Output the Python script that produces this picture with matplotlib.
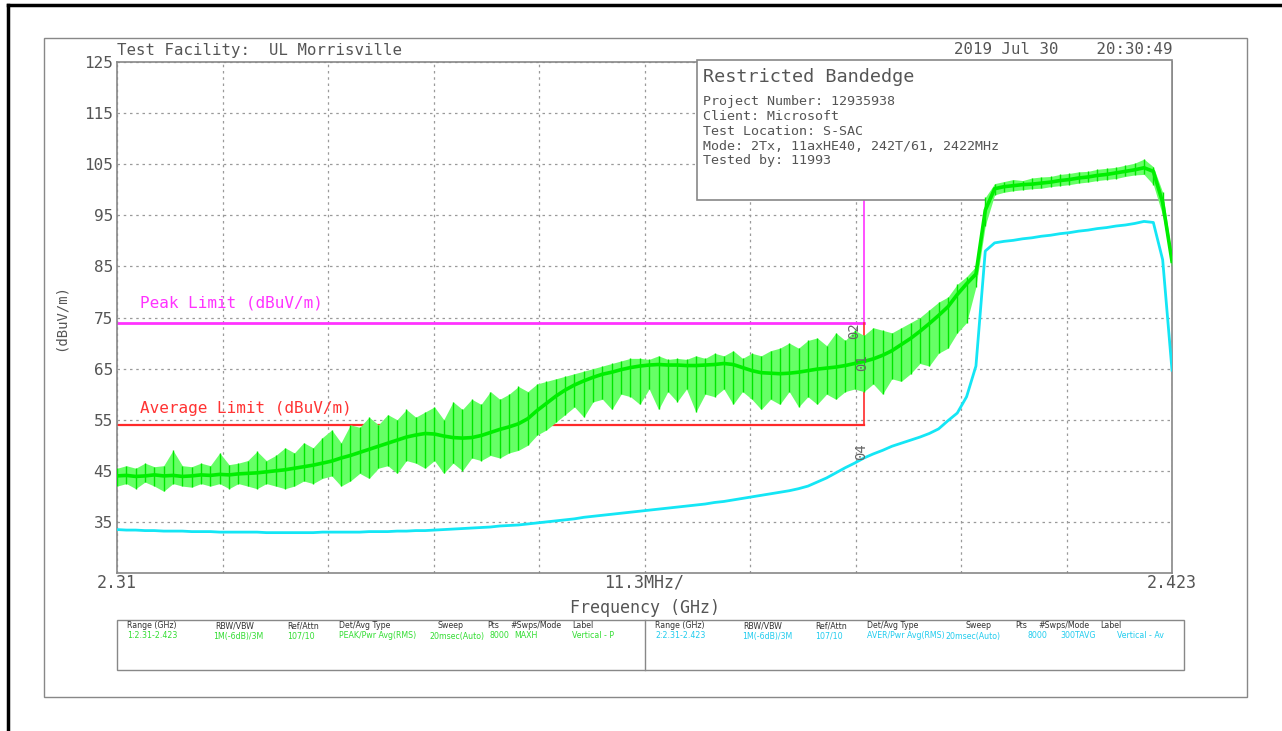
import numpy as np
import matplotlib
matplotlib.use("Agg")
import matplotlib.pyplot as plt
from matplotlib.patches import Rectangle
from matplotlib.lines import Line2D

# frequency grid of the read-off traces, 1 MHz steps (GHz)
freq = np.arange(2310, 2424) / 1000.0

# trace 1: peak (MAXH) - dense core, spike tops, spike bottoms (dBuV/m)
peak_core = [
    44.0, 44.1, 43.9, 44.0, 44.2, 44.0, 44.1, 43.9, 44.0, 44.2,
    44.1, 44.3, 44.2, 44.4, 44.5, 44.6, 44.8, 45.0, 45.2, 45.5,
    45.8, 46.1, 46.5, 46.9, 47.5, 48.0, 48.6, 49.2, 49.8, 50.4,
    51.0, 51.6, 52.0, 52.3, 52.2, 51.8, 51.5, 51.4, 51.5, 51.9,
    52.5, 53.1, 53.6, 54.2, 55.2, 56.8, 58.2, 59.6, 60.8, 61.8,
    62.6, 63.3, 63.9, 64.3, 64.8, 65.2, 65.5, 65.7, 65.8, 65.7,
    65.7, 65.6, 65.6, 65.7, 65.8, 66.0, 65.8, 65.2, 64.6, 64.2,
    64.1, 64.0, 64.1, 64.3, 64.6, 64.9, 65.1, 65.3, 65.6, 66.0,
    66.4, 66.9, 67.6, 68.5, 69.7, 70.9, 72.3, 73.8, 75.4, 77.1,
    79.5, 81.6, 83.5, 96.0, 100.2, 100.6, 100.8, 101.0, 101.1, 101.3,
    101.5, 101.8, 102.0, 102.3, 102.5, 102.8, 103.0, 103.3, 103.6, 103.9,
    104.3, 103.6, 97.5, 86.0,
]
peak_hi = [
    45.5, 46.0, 45.5, 46.5, 45.8, 46.0, 49.0, 46.0, 45.8, 46.5,
    46.0, 48.5, 46.2, 46.5, 47.0, 48.8, 47.0, 48.0, 49.5, 48.5,
    50.5, 49.5, 51.5, 53.0, 50.5, 54.0, 53.5, 55.5, 54.0, 56.0,
    55.0, 57.0, 55.5, 56.5, 57.5, 55.0, 58.5, 57.0, 59.0, 58.0,
    60.5, 59.0, 60.0, 61.5, 60.5, 62.0, 62.5, 63.0, 63.5, 64.0,
    64.5, 65.0, 65.5, 66.0, 66.5, 67.0, 67.0, 66.8, 67.5, 66.8,
    67.0, 66.8, 67.5, 67.0, 68.0, 67.5, 68.5, 67.0, 68.0, 67.5,
    68.5, 69.0, 70.0, 69.0, 70.5, 71.0, 69.5, 72.0, 70.5, 72.5,
    71.5, 73.0, 72.5, 72.0, 73.0, 74.0, 75.0, 76.5, 78.0, 79.0,
    81.5, 83.0, 85.0, 98.5, 101.2, 101.6, 102.0, 101.8, 102.3, 102.5,
    102.6, 103.0, 103.2, 103.5, 103.6, 104.0, 104.2, 104.4, 104.8, 105.2,
    106.0, 104.5, 99.5, 87.0,
]
peak_lo = [
    42.0, 42.5, 41.5, 42.8, 42.0, 41.0, 42.5, 42.0, 41.8, 42.5,
    42.0, 42.5, 41.5, 42.5, 42.0, 41.5, 42.5, 42.0, 41.5, 42.0,
    43.0, 42.5, 43.5, 44.0, 42.0, 43.0, 44.5, 43.5, 45.5, 46.0,
    44.5, 47.0, 46.5, 45.5, 47.0, 44.5, 46.5, 45.0, 47.5, 47.0,
    48.0, 47.5, 48.5, 49.0, 50.0, 52.0, 53.0, 54.5, 56.0, 57.5,
    55.5, 58.5, 59.0, 57.0, 60.0, 59.5, 58.0, 61.0, 57.0, 60.5,
    58.5, 61.0, 56.5, 60.0, 59.5, 61.0, 58.0, 60.5, 59.0, 57.0,
    59.0, 58.0, 60.5, 57.5, 59.5, 58.0, 60.0, 59.0, 60.5, 61.0,
    60.5, 62.0, 60.0, 63.0, 62.5, 64.0, 66.0, 65.5, 68.0, 69.0,
    72.0, 74.0, 81.0, 93.0, 99.0, 99.5, 99.8, 100.0, 100.2, 100.3,
    100.6, 100.8, 101.0, 101.3, 101.5, 101.8, 102.0, 102.2, 102.6, 102.9,
    103.0, 101.0, 95.0, 85.0,
]

# trace 2: average (300 traces averaged)
avg_trace = [
    33.5, 33.4, 33.4, 33.3, 33.3, 33.2, 33.2, 33.2, 33.1, 33.1,
    33.1, 33.0, 33.0, 33.0, 33.0, 33.0, 32.9, 32.9, 32.9, 32.9,
    32.9, 32.9, 33.0, 33.0, 33.0, 33.0, 33.0, 33.1, 33.1, 33.1,
    33.2, 33.2, 33.3, 33.3, 33.4, 33.5, 33.6, 33.7, 33.8, 33.9,
    34.0, 34.2, 34.3, 34.4, 34.6, 34.8, 35.0, 35.2, 35.4, 35.6,
    35.9, 36.1, 36.3, 36.5, 36.7, 36.9, 37.1, 37.3, 37.5, 37.7,
    37.9, 38.1, 38.3, 38.5, 38.8, 39.0, 39.3, 39.6, 39.9, 40.2,
    40.5, 40.8, 41.1, 41.5, 42.0, 42.8, 43.6, 44.6, 45.6, 46.5,
    47.5, 48.3, 49.0, 49.8, 50.4, 51.0, 51.6, 52.3, 53.2, 54.8,
    56.3, 59.5, 65.5, 88.0, 89.6, 89.9, 90.1, 90.4, 90.6, 90.9,
    91.1, 91.4, 91.6, 91.9, 92.1, 92.4, 92.6, 92.9, 93.1, 93.4,
    93.8, 93.6, 86.3, 64.7,
]

peak_limit = 74
avg_limit = 54
band_edge = 2.390
f_start, f_stop = 2.31, 2.423

W, H = 1282, 731
def fx(px):
    return px / W
def fy(py):
    return 1 - py / H

TXT = '#555555'
MONO = 'DejaVu Sans Mono'

fig = plt.figure(figsize=(W / 100, H / 100), dpi=100)
ax = fig.add_axes([fx(117), fy(573), fx(1172) - fx(117), fy(62) - fy(573)])
ax.set_xlim(f_start, f_stop)
ax.set_ylim(25, 125)

xt = np.linspace(f_start, f_stop, 11)
ax.set_xticks(xt)
xl = [''] * 11
xl[0], xl[5], xl[10] = '2.31', '11.3MHz/', '2.423'
ax.set_xticklabels(xl, fontsize=12, family=MONO, color=TXT)
ax.set_yticks(range(35, 126, 10))
ax.set_yticklabels([str(v) for v in range(35, 126, 10)], fontsize=11.5, family=MONO, color=TXT)
ax.tick_params(length=0, pad=3)
ax.tick_params(axis='x', pad=0.5)
ax.grid(color='#9a9a9a', ls=(0, (2, 3)), lw=0.9, zorder=0)
ax.set_axisbelow(True)
for s in ax.spines.values():
    s.set_color('#888888')
    s.set_linewidth(1.2)
ax.set_xlabel('Frequency (GHz)', fontsize=12, family=MONO, color=TXT, labelpad=5)
ax.set_ylabel('(dBuV/m)', fontsize=10, family=MONO, color=TXT, labelpad=12)

# limits
ax.plot([f_start, band_edge], [peak_limit, peak_limit], color='#ff33ff', lw=2, zorder=2)
ax.plot([band_edge, band_edge], [peak_limit, 125], color='#ff33ff', lw=1.2, zorder=2)
ax.plot([f_start, band_edge], [avg_limit, avg_limit], color='#ff2a2a', lw=1.6, zorder=2)
ax.plot([band_edge, band_edge], [avg_limit, peak_limit], color='#ff2a2a', lw=1.2, zorder=2)
ax.text(fx(140), fy(303), 'Peak Limit (dBuV/m)', transform=fig.transFigure, fontsize=11.5,
        family=MONO, color='#ff33ff', va='center')
ax.text(fx(140), fy(409), 'Average Limit (dBuV/m)', transform=fig.transFigure, fontsize=11.5,
        family=MONO, color='#ff3333', va='center')

# info box
box = Rectangle((fx(697), fy(200)), fx(1172) - fx(697), fy(60) - fy(200), transform=fig.transFigure,
                facecolor='white', edgecolor='#888888', lw=1.2, zorder=3, clip_on=False)
ax.add_patch(box)
ax.text(fx(703), fy(77), 'Restricted Bandedge', transform=fig.transFigure, fontsize=13.3,
        family=MONO, color=TXT, va='center', zorder=6)
info = ['Project Number: 12935938', 'Client: Microsoft', 'Test Location: S-SAC',
        'Mode: 2Tx, 11axHE40, 242T/61, 2422MHz', 'Tested by: 11993']
for i, line in enumerate(info):
    ax.text(fx(703), fy(102 + i * 14.7), line, transform=fig.transFigure, fontsize=9.6,
            family=MONO, color=TXT, va='center', zorder=6)

# traces
ax.fill_between(freq, peak_lo, peak_hi, color='#66ff66', lw=0, zorder=4)
ax.vlines(freq, peak_lo, peak_hi, colors='#00e600', lw=1.0, zorder=4)
ax.plot(freq, peak_core, color='#00ee00', lw=2.6, zorder=5, solid_joinstyle='round')
ax.plot(freq, avg_trace, color='#14e6f5', lw=2.0, zorder=5)

# marker labels
for t, px, py in [('02', 854, 331), ('01', 862, 363), ('04', 861, 452)]:
    ax.text(fx(px), fy(py), t, transform=fig.transFigure, rotation=90, fontsize=10,
            family=MONO, color='#666666', ha='center', va='center', zorder=7)

# header
fig.text(fx(117), fy(50), 'Test Facility:  UL Morrisville', fontsize=11.3, family=MONO,
         color=TXT, va='center')
fig.text(fx(1172), fy(50), '2019 Jul 30    20:30:49', fontsize=11.3, family=MONO,
         color=TXT, va='center', ha='right')

# frames
fig.add_artist(Rectangle((fx(44), fy(697)), fx(1247) - fx(44), fy(38) - fy(697),
                         transform=fig.transFigure, fill=False, edgecolor='#888888', lw=1))
fig.add_artist(Line2D([fx(8), fx(8)], [fy(5), 0], transform=fig.transFigure, color='black', lw=2.5))
fig.add_artist(Line2D([fx(8), 1], [fy(5), fy(5)], transform=fig.transFigure, color='black', lw=2.5))

# settings table
fig.add_artist(Rectangle((fx(117), fy(670)), fx(1184) - fx(117), fy(620) - fy(670),
                         transform=fig.transFigure, fill=False, edgecolor='#888888', lw=1))
fig.add_artist(Line2D([fx(645), fx(645)], [fy(620), fy(670)], transform=fig.transFigure,
                      color='#888888', lw=1))
heads = ['Range (GHz)', 'RBW/VBW', 'Ref/Attn', 'Det/Avg Type', 'Sweep', 'Pts', '#Swps/Mode', 'Label']
head_x = [127, 215, 287, 339, 438, 487, 510, 572]
row1 = ['1:2.31-2.423', '1M(-6dB)/3M', '107/10', 'PEAK/Pwr Avg(RMS)', '20msec(Auto)', '8000', 'MAXH', 'Vertical - P']
row1_x = [127, 213, 287, 339, 429, 489, 514, 572]
row2 = ['2:2.31-2.423', '1M(-6dB)/3M', '107/10', 'AVER/Pwr Avg(RMS)', '20msec(Auto)', '8000', '300TAVG', 'Vertical - Av']
row2_x = [655, 742, 815, 867, 945, 1028, 1060, 1117]
TS = 5.7
for h, x in zip(heads, head_x):
    fig.text(fx(x), fy(626), h, fontsize=TS, color='#333333', va='center')
    fig.text(fx(x + 528), fy(626), h, fontsize=TS, color='#333333', va='center')
for t, x in zip(row1, row1_x):
    fig.text(fx(x), fy(636), t, fontsize=TS, color='#33dd33', va='center')
for t, x in zip(row2, row2_x):
    fig.text(fx(x), fy(636), t, fontsize=TS, color='#22ccee', va='center')

fig.savefig('out.png', dpi=100, facecolor='white')
